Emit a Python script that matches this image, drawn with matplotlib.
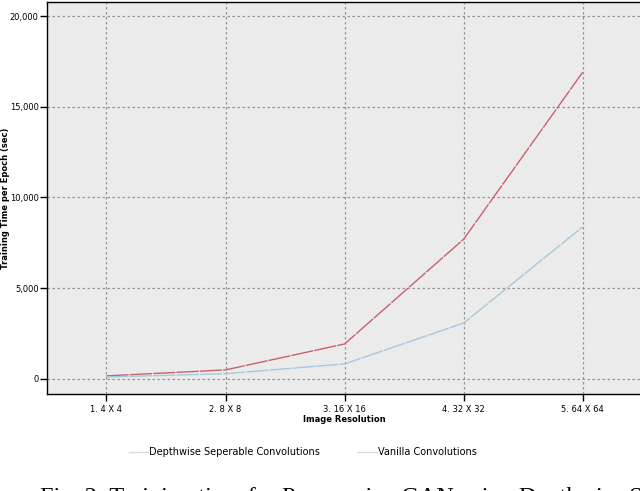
import matplotlib.pyplot as plt
from matplotlib.ticker import FuncFormatter

# --- data ---
resolutions = ["1. 4 X 4", "2. 8 X 8", "3. 16 X 16", "4. 32 X 32", "5. 64 X 64"]
depthwise_sec = [170, 500, 1930, 7700, 16900]
vanilla_sec = [110, 290, 830, 3080, 8380]
y_ticks = [0, 5000, 10000, 15000, 20000]

fig = plt.figure(figsize=(6.4, 4.91), dpi=100)
ax = fig.add_axes([0.0734, 0.1976, 0.93, 0.7983])
ax.set_facecolor("#ebebeb")

x = list(range(len(resolutions)))
ax.plot(x, depthwise_sec, color="#c9626a", lw=1.0, dashes=(16, 0.8))
ax.plot(x, vanilla_sec, color="#a8c8dc", lw=1.0, dashes=(16, 0.8))

ax.set_xlim(-0.5, 4.5)
ax.set_ylim(-827, 20772)
ax.set_xticks(x)
ax.set_xticklabels(resolutions)
ax.set_yticks(y_ticks)
ax.yaxis.set_major_formatter(FuncFormatter(lambda v, p: f"{int(v):,}"))

ax.grid(True, color="#959595", linestyle=(0, (2, 2)), linewidth=0.9)
ax.set_axisbelow(True)
for s in ["left", "bottom", "top"]:
    ax.spines[s].set_color("black")
    ax.spines[s].set_linewidth(1.0)
ax.spines["right"].set_visible(False)

ax.tick_params(axis="both", labelsize=6, colors="black", length=5, width=1.0)
ax.tick_params(axis="x", pad=3)
ax.tick_params(axis="y", pad=1)

ax.set_xlabel("Image Resolution", fontsize=6, fontweight="bold", labelpad=1)
fig.text(0.009, 0.597, "Training Time per Epoch (sec)", rotation=90,
         fontsize=6, fontweight="bold", ha="center", va="center")

# legend below the chart with very faint line samples
h1, = ax.plot([], [], color="#dcdcdc", lw=1.0)
h2, = ax.plot([], [], color="#dcdcdc", lw=1.0)
fig.legend([h1, h2], ["Depthwise Seperable Convolutions", "Vanilla Convolutions"],
           loc="center", bbox_to_anchor=(0.473, 0.079), ncol=2, frameon=False,
           fontsize=7, handlelength=2.0, handletextpad=0.1, columnspacing=3.8)

# caption, cut off at the bottom of the image
fig.text(0.062, -0.024, "Fig. 2: Training time for Progressive GAN using Depthwise Separable Convolutions",
         family="Liberation Serif", fontsize=17.5, ha="left", va="baseline")

fig.savefig("out.png", dpi=100)
